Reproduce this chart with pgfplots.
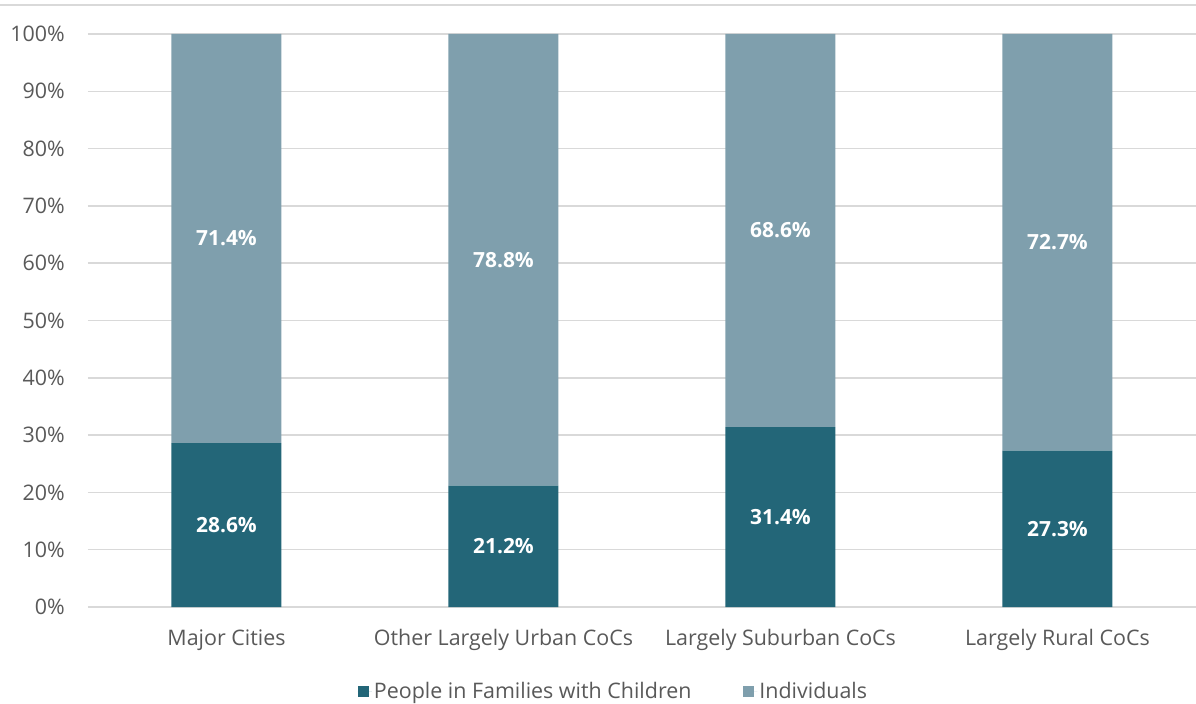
\documentclass[border=0pt]{standalone}
\usepackage{fontspec}
\setmainfont{Open Sans}
\usepackage{pgfplots}
\usepackage{pgfplotstable}
\pgfplotsset{compat=1.18}
\definecolor{fam}{HTML}{236678}
\definecolor{ind}{HTML}{7F9FAD}
\definecolor{gridc}{HTML}{D9D9D9}
\definecolor{tx}{HTML}{595959}
\pgfplotstableread{
x fam ind
0 28.6 71.4
1 21.2 78.8
2 31.4 68.6
3 27.3 72.7
}\datatab
\newcommand\lf{\fontsize{21.5}{26}\selectfont}
\begin{document}
\begin{tikzpicture}
\useasboundingbox (-88bp,-97bp) rectangle (1108bp,607bp);
\draw[gridc, line width=1.8bp] (-88bp,602bp) -- (1108bp,602bp);
\begin{axis}[
  at={(0,0)}, anchor=south west,
  scale only axis, width=1108bp, height=573bp,
  xmin=-0.5, xmax=3.5, ymin=0, ymax=100,
  ybar stacked, bar width=110bp,
  axis line style={draw=none},
  major tick length=0pt,
  ymajorgrids, grid style={gridc, line width=1.5bp},
  ytick={0,10,...,100},
  yticklabels={0\%,10\%,20\%,30\%,40\%,50\%,60\%,70\%,80\%,90\%,100\%},
  yticklabel style={font=\lf, text=tx, inner sep=0pt, anchor=east, xshift=-23bp},
  xtick={0,1,2,3},
  xticklabels={Major Cities,Other Largely Urban CoCs,Largely Suburban CoCs,Largely Rural CoCs},
  xticklabel style={font=\lf, text=tx, inner sep=0pt, anchor=base, yshift=-38bp},
  visualization depends on=rawy \as \rawy,
  nodes near coords={\pgfmathprintnumber[fixed,precision=1,fixed zerofill,assume math mode=true]{\rawy}\%},
  every node near coord/.append style={font=\fontsize{21}{25}\selectfont\bfseries, text=white, anchor=center},
  legend style={draw=none, at={(0.4743,-0.1466)}, anchor=center, legend columns=2,
    font=\lf, text=tx,
    /tikz/every even column/.append style={column sep=50bp}},
  legend image code/.code={\path (0bp,0bp) -- (14bp,0bp); \fill[#1] (0bp,-5.5bp) rectangle (11bp,5.5bp);},
]
\addplot[fill=fam, draw=none] table[x=x, y=fam] {\datatab};
\addplot[fill=ind, draw=none] table[x=x, y=ind] {\datatab};
\legend{People in Families with Children, Individuals}
\end{axis}
\end{tikzpicture}
\end{document}
